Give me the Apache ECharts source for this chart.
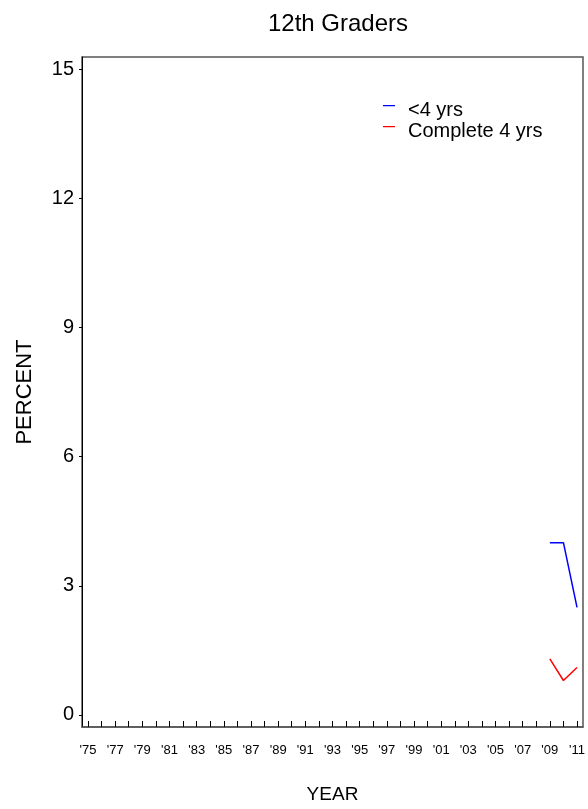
<!DOCTYPE html>
<html>
<head>
<meta charset="utf-8">
<script src="https://cdn.jsdelivr.net/npm/echarts@6/dist/echarts.min.js"></script>
<style>
  html, body { margin: 0; padding: 0; background: #fff; }
  #chart { width: 588px; height: 809px; }
</style>
</head>
<body>
<div id="chart"></div>
<script>
// data
const years = [2009, 2010, 2011]
const lessThan4 = [4.0, 4.0, 2.5]
const complete4 = [1.3, 0.8, 1.1]
const yTicks = [0, 3, 6, 9, 12, 15]
const xTicks = []
for (let y = 1975; y <= 2011; y++) xTicks.push(y)
const xLabels = xTicks.filter((y) => (y - 1975) % 2 === 0)

const font = 'Liberation Sans, Arial, sans-serif'
const chart = echarts.init(document.getElementById('chart'))

const option = {
  animation: false,
  title: {
    text: '12th Graders',
    left: 333,
    textAlign: 'center',
    top: 7,
    textStyle: {fontFamily: font, fontSize: 24, fontWeight: 'normal', color: '#000'}
  },
  legend: {
    orient: 'vertical',
    left: 378,
    top: 95,
    itemWidth: 12,
    itemHeight: 11,
    itemGap: 1,
    // thin dash sitting a bit above the text middle, like the original
    icon: 'path://M0,0 L12,0 L12,1.2 L0,1.2 Z M0,10 L0.01,10 L0.01,10.01 Z',
    data: ['<4 yrs', 'Complete 4 yrs'],
    textStyle: {fontFamily: font, fontSize: 20, color: '#000', padding: [0, 0, 0, 8]}
  },
  grid: {
    left: 82,
    right: 4,
    top: 57,
    bottom: 80,
    show: true,
    borderColor: '#555',
    borderWidth: 1.5
  },
  xAxis: {
    type: 'value',
    min: 1974.56,
    max: 2011.44,
    name: 'YEAR',
    nameLocation: 'middle',
    nameGap: 58,
    nameTextStyle: {fontFamily: font, fontSize: 19, color: '#000'},
    splitLine: {show: false},
    axisLine: {onZero: false, lineStyle: {color: '#555', width: 1.5}},
    axisTick: {
      customValues: xTicks,
      inside: true,
      length: 6,
      lineStyle: {color: '#000', width: 1}
    },
    axisLabel: {
      customValues: xLabels,
      formatter: (v) => "'" + String(v).slice(2),
      fontFamily: font,
      fontSize: 13,
      color: '#000',
      margin: 17
    }
  },
  yAxis: {
    type: 'value',
    min: -0.28,
    max: 15.28,
    name: 'PERCENT',
    nameLocation: 'middle',
    nameGap: 46,
    nameTextStyle: {fontFamily: font, fontSize: 22, color: '#000'},
    splitLine: {show: false},
    axisLine: {show: true, onZero: false, lineStyle: {color: '#000', width: 1}},
    axisTick: {
      customValues: yTicks,
      length: 3,
      lineStyle: {color: '#000'}
    },
    axisLabel: {
      customValues: yTicks,
      fontFamily: font,
      fontSize: 20,
      color: '#000',
      margin: 8
    }
  },
  series: [
    {
      name: '<4 yrs',
      type: 'line',
      symbol: 'none',
      color: '#0000ff',
      lineStyle: {width: 1.5},
      data: years.map((y, i) => [y, lessThan4[i]])
    },
    {
      name: 'Complete 4 yrs',
      type: 'line',
      symbol: 'none',
      color: '#ff0000',
      lineStyle: {width: 1.5},
      data: years.map((y, i) => [y, complete4[i]])
    }
  ]
}

chart.setOption(option)
</script>
</body>
</html>
